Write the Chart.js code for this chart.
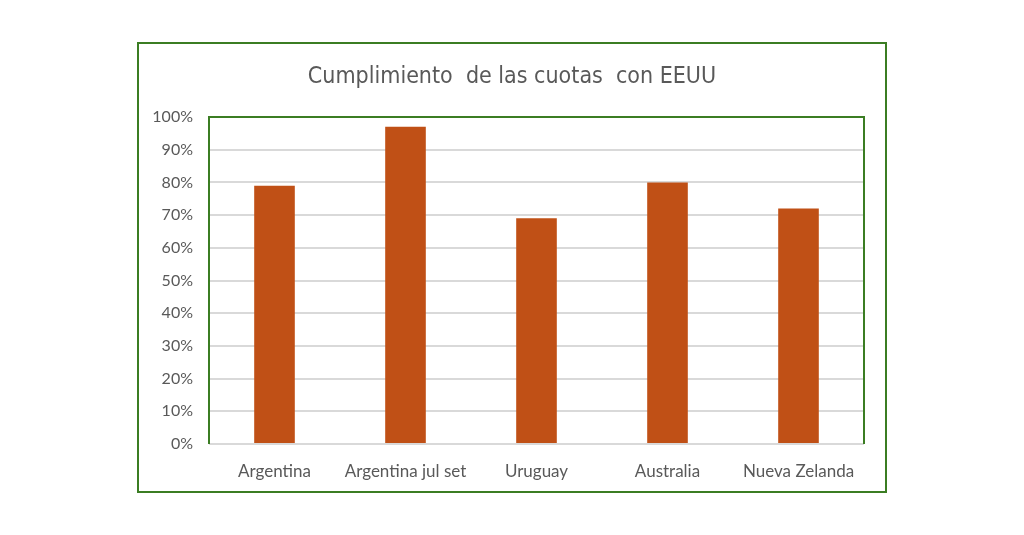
<!DOCTYPE html>
<html>
<head>
<meta charset="utf-8">
<script src="https://cdn.jsdelivr.net/npm/chart.js@4"></script>
<style>
  body { margin: 0; background: #fff; }
  #wrap { width: 1024px; height: 535px; position: relative; }
</style>
</head>
<body>
<div id="wrap"><canvas id="chart" width="1024" height="535"></canvas></div>
<script>
const categories = ["Argentina", "Argentina jul set", "Uruguay", "Australia", "Nueva Zelanda"];
const cumplimiento = [79, 97, 69, 80, 72];
const chartTitle = "Cumplimiento  de las cuotas  con EEUU";

const green = "#3B7D23";

// outer frame, plot area frame and the title, like the excel box
const frames = {
  id: "frames",
  afterDraw(chart) {
    const { ctx, chartArea: a } = chart;
    ctx.save();
    ctx.strokeStyle = green;
    ctx.lineWidth = 2;
    ctx.strokeRect(138, 43, 748, 449);
    ctx.beginPath();
    ctx.moveTo(a.left, a.bottom);
    ctx.lineTo(a.left, a.top);
    ctx.lineTo(a.right, a.top);
    ctx.lineTo(a.right, a.bottom);
    ctx.stroke();
    ctx.strokeStyle = "#D9D9D9";
    ctx.beginPath();
    ctx.moveTo(a.left + 1, a.bottom);
    ctx.lineTo(a.right - 1, a.bottom);
    ctx.stroke();

    ctx.fillStyle = "#595959";
    ctx.font = "23px 'DejaVu Sans Condensed', sans-serif";
    ctx.textAlign = "center";
    ctx.textBaseline = "middle";
    ctx.fillText(chartTitle, 512, 77);
    ctx.restore();
  }
};

new Chart(document.getElementById("chart"), {
  type: "bar",
  data: {
    labels: categories,
    datasets: [{
      label: "Cumplimiento",
      data: cumplimiento,
      backgroundColor: "#C05016",
      barPercentage: 0.31,
      categoryPercentage: 1
    }]
  },
  options: {
    responsive: false,
    animation: false,
    layout: { padding: { left: 140, right: 160, top: 117, bottom: 0 } },
    plugins: {
      legend: { display: false },
      tooltip: { enabled: false },
      title: { display: false }
    },
    scales: {
      x: {
        grid: { display: false },
        border: { display: false },
        ticks: { color: "#595959", font: { family: "Lato", size: 17 }, padding: 9, maxRotation: 0 },
        afterFit(scale) { scale.height = 91; }
      },
      y: {
        min: 0,
        max: 100,
        grid: { color: "#D9D9D9", lineWidth: 2, drawTicks: false },
        border: { display: false },
        ticks: {
          stepSize: 10,
          color: "#595959",
          font: { family: "Lato", size: 16 },
          padding: 16,
          callback: v => v + "%"
        },
        afterFit(scale) { scale.width = 69; }
      }
    }
  },
  plugins: [frames]
});
</script>
</body>
</html>
